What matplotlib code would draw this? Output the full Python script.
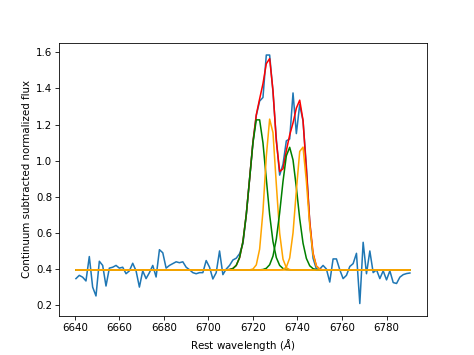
import numpy as np
import matplotlib
matplotlib.use("Agg")
import matplotlib.pyplot as plt

# wavelength grid (1.5 A step)
wave = np.arange(101) * 1.5 + 6640.5

flux = [0.347, 0.365, 0.355, 0.334, 0.469, 0.300, 0.251, 0.443, 0.420, 0.306,
        0.405, 0.410, 0.420, 0.405, 0.410, 0.374, 0.390, 0.432, 0.390, 0.300,
        0.390, 0.347, 0.380, 0.420, 0.356, 0.507, 0.490, 0.405, 0.420, 0.430,
        0.440, 0.435, 0.440, 0.410, 0.396, 0.380, 0.374, 0.380, 0.380, 0.447,
        0.410, 0.345, 0.380, 0.500, 0.369, 0.400, 0.420, 0.450, 0.460, 0.485,
        0.540, 0.700, 0.900, 1.100, 1.250, 1.330, 1.350, 1.585, 1.585, 1.380,
        1.120, 0.920, 0.980, 1.110, 1.120, 1.375, 1.150, 1.310, 1.220, 0.970,
        0.660, 0.460, 0.400, 0.400, 0.420, 0.400, 0.328, 0.456, 0.456, 0.396,
        0.347, 0.365, 0.414, 0.430, 0.487, 0.209, 0.548, 0.374, 0.500, 0.380,
        0.396, 0.347, 0.390, 0.340, 0.390, 0.325, 0.320, 0.355, 0.369, 0.375,
        0.378]

continuum = 0.395

# fitted components above the continuum, grid points 44..76
win_start = 44
comp_g1 = [0, 0.0005, 0.0021, 0.0078, 0.0251, 0.0683, 0.157, 0.306, 0.504, 0.704,
           0.831, 0.831, 0.704, 0.504, 0.306, 0.157, 0.0683, 0.0251, 0.0078, 0.0021,
           0.0005, 0, 0, 0, 0, 0, 0, 0, 0, 0, 0, 0, 0]
comp_o1 = [0, 0, 0, 0, 0, 0, 0, 0, 0.0005, 0.0047,
           0.028, 0.115, 0.325, 0.629, 0.835, 0.760, 0.474, 0.203, 0.0595, 0.012,
           0.0017, 0.0002, 0, 0, 0, 0, 0, 0, 0, 0, 0, 0, 0]
comp_g2 = [0, 0, 0, 0, 0, 0, 0, 0, 0, 0,
           0, 0.0005, 0.0023, 0.009, 0.0287, 0.0766, 0.171, 0.3166, 0.490, 0.632,
           0.679, 0.609, 0.456, 0.284, 0.148, 0.0639, 0.0231, 0.007, 0.0017, 0.0004,
           0, 0, 0]
comp_o2 = [0, 0, 0, 0, 0, 0, 0, 0, 0, 0,
           0, 0, 0, 0, 0, 0, 0, 0, 0.0023, 0.0149,
           0.066, 0.205, 0.440, 0.656, 0.680, 0.490, 0.246, 0.0856, 0.0207, 0.0035,
           0.0004, 0, 0]
total_fit = [0.395, 0.3955, 0.397, 0.403, 0.420, 0.463, 0.552, 0.701, 0.900, 1.104,
             1.254, 1.342, 1.426, 1.537, 1.565, 1.389, 1.108, 0.940, 0.955, 1.056,
             1.142, 1.209, 1.291, 1.335, 1.223, 0.949, 0.664, 0.488, 0.417, 0.399,
             0.395, 0.395, 0.395]


def full_curve(comp):
    arr = np.full(len(wave), continuum)
    arr[win_start:win_start + len(comp)] += np.array(comp)
    return arr


fig = plt.figure(figsize=(474 / 74, 355 / 74), dpi=74)
ax = fig.add_subplot(111)

ax.plot(wave, flux, color="C0")
ax.plot(wave[win_start:win_start + len(total_fit)], total_fit, color="red")
ax.plot(wave, full_curve(comp_g1), color="green")
ax.plot(wave, full_curve(comp_o1), color="orange")
ax.plot(wave, full_curve(comp_g2), color="green")
ax.plot(wave, full_curve(comp_o2), color="orange")
ax.plot(wave, np.full(len(wave), continuum), color="orange")

ax.set_xlabel(r"Rest wavelength ($\AA$)")
ax.set_ylabel("Continuum subtracted normalized flux")

fig.savefig("out.png", dpi=74)
